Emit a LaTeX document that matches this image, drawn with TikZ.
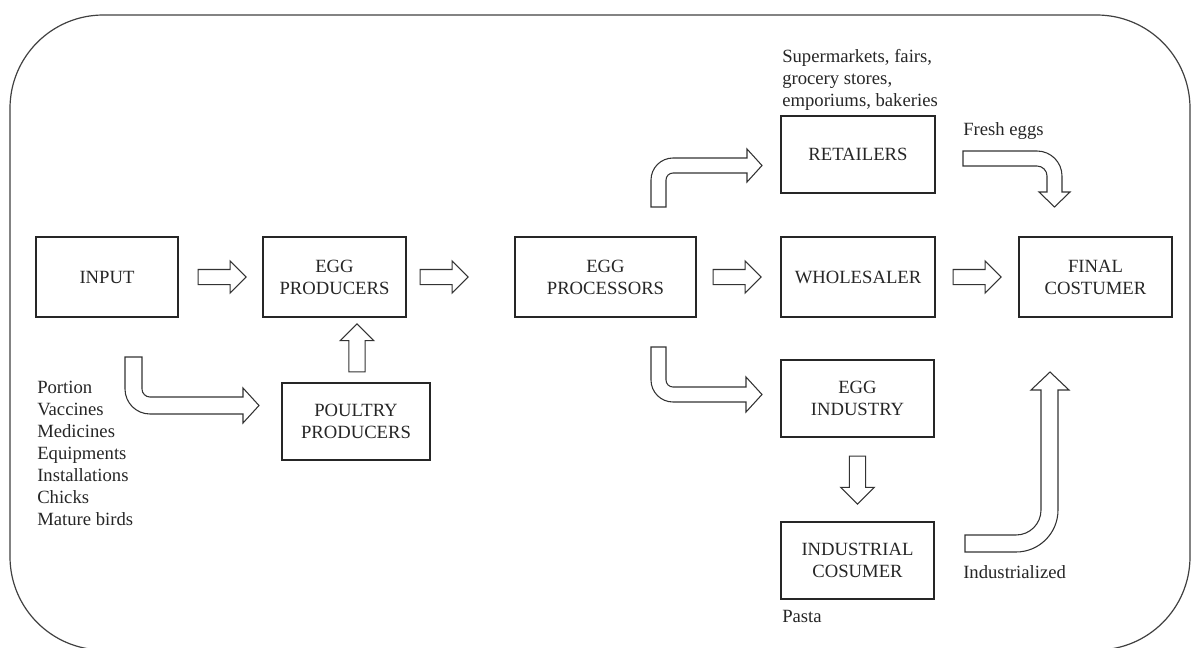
\documentclass[tikz,border=0pt]{standalone}
\usepackage{fontspec}
\setmainfont{Liberation Serif}
\usetikzlibrary{shapes.arrows,calc}

\begin{document}
\begin{tikzpicture}[x=0.75pt,y=0.75pt,yscale=-1,
  box/.style={draw=black!85,line width=0.9pt,align=center,text=black!85,inner sep=0pt,font=\fontsize{14}{16.5}\selectfont},
  note/.style={align=left,inner sep=0pt,text=black!85,font=\fontsize{14}{16.5}\selectfont},
  blk/.style={draw=black!80,line width=0.8pt,fill=white},
  sarrow/.style={blk,single arrow,inner xsep=0pt,inner ysep=5.25pt,minimum width=0pt,single arrow head extend=6.4pt,minimum height=36pt,anchor=tail},
  varrow/.style={sarrow,inner xsep=5.75pt,inner ysep=0pt,shape border rotate=#1}]
\useasboundingbox (0,0) rectangle (1192,647);
\clip (0,0) rectangle (1192,647);
\draw[draw=black!75,line width=0.9pt,rounded corners=70pt] (10,15) rectangle (1190,650);
\node[box,minimum width=106.5pt,minimum height=60pt] (input) at (107,277) {INPUT};
\node[box,minimum width=107.25pt,minimum height=60pt] (eggprod) at (334.5,277) {EGG\\PRODUCERS};
\node[box,minimum width=135.75pt,minimum height=60pt] (proc) at (605.5,277) {EGG\\PROCESSORS};
\node[box,minimum width=115.5pt,minimum height=60pt] (whole) at (858,277) {WHOLESALER};
\node[box,minimum width=114.75pt,minimum height=60pt] (final) at (1095.5,277) {FINAL\\COSTUMER};
\node[box,minimum width=115.5pt,minimum height=57.75pt] (retail) at (858,154.5) {RETAILERS};
\node[box,minimum width=114.75pt,minimum height=57.75pt] (eggind) at (857.5,398.5) {EGG\\INDUSTRY};
\node[box,minimum width=114.75pt,minimum height=57.75pt] (indcons) at (857.5,560.5) {INDUSTRIAL\\COSUMER};
\node[box,minimum width=111pt,minimum height=57.75pt] (poultry) at (356,421.5) {POULTRY\\PRODUCERS};
% labels
\node[note,anchor=north west] (inputs) at (37,380.5) {Portion\\Vaccines\\Medicines\\Equipments\\Installations\\Chicks\\Mature birds};
\node[note,anchor=north west] (shops) at (782,49.5) {Supermarkets, fairs,\\grocery stores,\\emporiums, bakeries};
\node[note,anchor=base west] (fresh) at (963,135) {Fresh eggs};
\node[note,anchor=base west] (indust) at (963,578) {Industrialized};
\node[note,anchor=base west] (pasta) at (782,622) {Pasta};
% straight arrows
\node[sarrow] (a1) at ($(input.east)+(19,0)$) {};
\node[sarrow] (a2) at ($(eggprod.east)+(13,0)$) {};
\node[sarrow] (a3) at ($(proc.east)+(16,0)$) {};
\node[sarrow] (a4) at ($(whole.east)+(17,0)$) {};
\node[varrow=90] (a5) at ($(poultry.north)+(1,-10)$) {};
\node[varrow=270] (a6) at ($(eggind.south)+(0,18)$) {};
% bent arrows
\draw[blk] (125,357) -- (125,389) arc[start angle=180,end angle=90,radius=25] -- (243,414) -- (243,423) -- (259,405.5) -- (243,388) -- (243,397) -- (150,397) arc[start angle=90,end angle=180,radius=8] -- (142,357) -- cycle;
\draw[blk] (651,347) -- (651,380) arc[start angle=180,end angle=90,radius=22] -- (746,402) -- (746,412) -- (762,394.5) -- (746,377) -- (746,387) -- (673,387) arc[start angle=90,end angle=180,radius=7] -- (666,347) -- cycle;
\draw[blk] (651,207) -- (651,180) arc[start angle=180,end angle=270,radius=22] -- (747,158) -- (747,149) -- (762,165.5) -- (747,182) -- (747,173) -- (673,173) arc[start angle=270,end angle=180,radius=7] -- (666,207) -- cycle;
\draw[blk] (963,151) -- (1037,151) arc[start angle=270,end angle=360,radius=25] -- (1062,192) -- (1070,192) -- (1054.5,207) -- (1039,192) -- (1047,192) -- (1047,176) arc[start angle=0,end angle=-90,radius=10] -- (963,166) -- cycle;
\draw[blk] (965,552) -- (1016,552) arc[start angle=90,end angle=0,radius=42] -- (1058,390) -- (1069,390) -- (1050,372) -- (1031,390) -- (1041,390) -- (1041,510) arc[start angle=0,end angle=90,radius=25] -- (965,535) -- cycle;
\end{tikzpicture}
\end{document}
